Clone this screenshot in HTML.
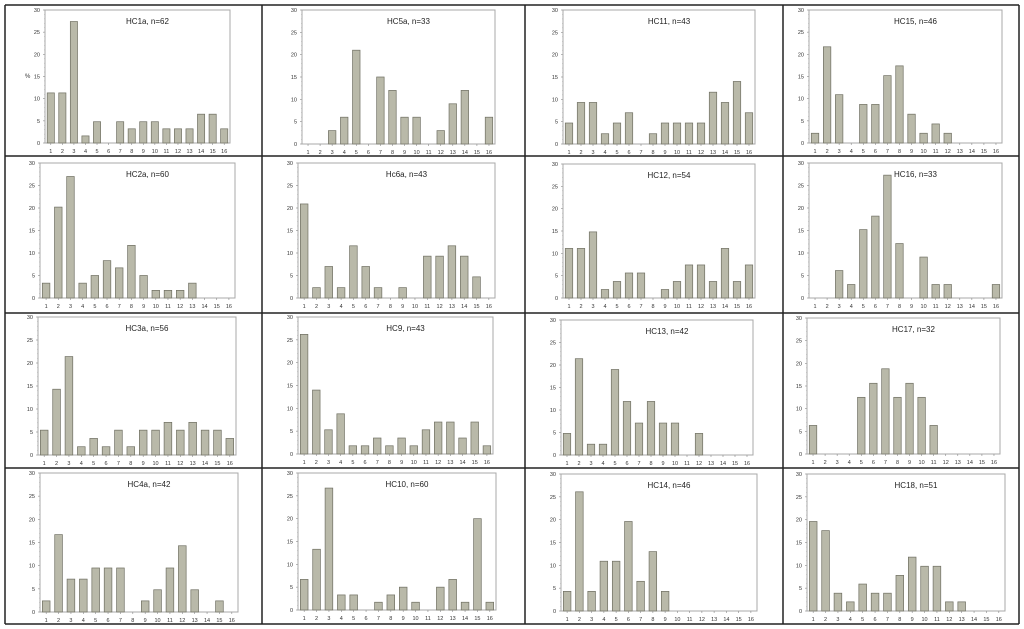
<!DOCTYPE html>
<html><head><meta charset="utf-8"><style>
html,body{margin:0;padding:0;background:#fff;width:1024px;height:629px;overflow:hidden}
svg{display:block;font-family:"Liberation Sans",sans-serif}
</style></head><body>
<svg id="fig" width="1024" height="629"></svg>
<script>
const titles=["HC1a, n=62","HC5a, n=33","HC11, n=43","HC15, n=46","HC2a, n=60","Hc6a, n=43","HC12, n=54","HC16, n=33","HC3a, n=56","HC9, n=43","HC13, n=42","HC17, n=32","HC4a, n=42","HC10, n=60","HC14, n=46","HC18, n=51"];
const categories=[1,2,3,4,5,6,7,8,9,10,11,12,13,14,15,16];
const yTicks=[0,5,10,15,20,25,30];
const hc1a=[11.3,11.3,27.4,1.6,4.8,0,4.8,3.2,4.8,4.8,3.2,3.2,3.2,6.5,6.5,3.2];
const hc5a=[0,0,3,6,21,0,15,12,6,6,0,3,9,12,0,6];
const hc11=[4.7,9.3,9.3,2.3,4.7,7,0,2.3,4.7,4.7,4.7,4.7,11.6,9.3,14,7];
const hc15=[2.2,21.7,10.9,0,8.7,8.7,15.2,17.4,6.5,2.2,4.3,2.2,0,0,0,0];
const hc2a=[3.3,20.2,27,3.3,5,8.3,6.7,11.7,5,1.7,1.7,1.7,3.3,0,0,0];
const hc6a=[20.9,2.3,7,2.3,11.6,7,2.3,0,2.3,0,9.3,9.3,11.6,9.3,4.7,0];
const hc12=[11.1,11.1,14.8,1.9,3.7,5.6,5.6,0,1.9,3.7,7.4,7.4,3.7,11.1,3.7,7.4];
const hc16=[0,0,6.1,3,15.2,18.2,27.3,12.1,0,9.1,3,3,0,0,0,3];
const hc3a=[5.4,14.3,21.4,1.8,3.6,1.8,5.4,1.8,5.4,5.4,7.1,5.4,7.1,5.4,5.4,3.6];
const hc9=[26.2,14,5.3,8.8,1.8,1.8,3.5,1.8,3.5,1.8,5.3,7,7,3.5,7,1.8];
const hc13=[4.8,21.4,2.4,2.4,19,11.9,7.1,11.9,7.1,7.1,0,4.8,0,0,0,0];
const hc17=[6.3,0,0,0,12.5,15.6,18.8,12.5,15.6,12.5,6.3,0,0,0,0,0];
const hc4a=[2.4,16.7,7.1,7.1,9.5,9.5,9.5,0,2.4,4.8,9.5,14.3,4.8,0,2.4,0];
const hc10=[6.7,13.3,26.7,3.3,3.3,0,1.7,3.3,5,1.7,0,5,6.7,1.7,20,1.7];
const hc14=[4.3,26.1,4.3,10.9,10.9,19.6,6.5,13,4.3,0,0,0,0,0,0,0];
const hc18=[19.6,17.6,3.9,2,5.9,3.9,3.9,7.8,11.8,9.8,9.8,2,2,0,0,0];
const series=[hc1a,hc5a,hc11,hc15,hc2a,hc6a,hc12,hc16,hc3a,hc9,hc13,hc17,hc4a,hc10,hc14,hc18];

const boxes=[[45,10,230,143],[302,10,495,144],[563,10,755,144],[809,10,1002,143],
[40,163,235,298],[298,163,495,298],[563,164,755,298],[809,163,1002,298],
[38,317,236,455],[298,317,493,454],[561,320,753,455],[807,318,1000,454],
[40,473,238,612],[298,473,496,610],[561,474,757,611],[807,474,1005,611]];
const NS="http://www.w3.org/2000/svg";
const svg=document.getElementById('fig');
function mk(t,a,p){const e=document.createElementNS(NS,t);for(const k in a)e.setAttribute(k,a[k]);(p||svg).appendChild(e);return e;}

series.forEach((vals,i)=>{
  const [x0,y0,x1,y1]=boxes[i];
  const g=mk('g',{});
  
  
  const fr=mk('rect',{x:x0,y:y0,width:x1-x0,height:y1-y0,fill:'#fff',stroke:'#a8a8a8','stroke-width':1},g);
  
  
  const ys=v=>y1-(v/30)*(y1-y0);
  const slot=(x1-x0)/16;
  const xs=k=>x0+slot*(k+0.5);
  yTicks.forEach(t=>{
    mk('line',{x1:x0-2,x2:x0,y1:ys(t),y2:ys(t),stroke:'#888','stroke-width':0.6},g);
    const tx=mk('text',{x:x0-5,y:ys(t)+2,'font-size':5.5,fill:'#333','text-anchor':'end'},g);
    tx.textContent=t;
    
    
  });
  for(let m=0;m<=30;m+=1){mk('line',{x1:x0-1,x2:x0,y1:ys(m),y2:ys(m),stroke:'#aaa','stroke-width':0.4},g);}
  vals.forEach((v,k)=>{
    const bw=slot*0.62;
    if(v>0){
      const r=mk('rect',{x:xs(k)-bw/2,y:ys(v),width:bw,height:y1-ys(v),fill:'#b9b9a9',stroke:'#6f6f62','stroke-width':0.7},g);
      
      
    }
    mk('line',{x1:xs(k),x2:xs(k),y1:y1,y2:y1+2,stroke:'#888','stroke-width':0.6},g);
    const tl=mk('text',{x:xs(k),y:y1+10,'font-size':5.5,fill:'#333','text-anchor':'middle'},g);
    tl.textContent=categories[k];
    
    
  });
  const tt=mk('text',{x:(x0+x1)/2+10,y:y0+14,'font-size':8,fill:'#222','text-anchor':'middle'},g);
  tt.textContent=titles[i];
  
  
});
const yl=mk('text',{x:25,y:78,'font-size':6,fill:'#333'});
yl.textContent='%';



[[5,5,5,624],[262,5,262,624],[525,5,525,624],[783,5,783,624],[1019,5,1019,624],
 [5,5,1019,5],[5,156,1019,156],[5,313,1019,313],[5,468,1019,468],[5,624,1019,624]].forEach(l=>{
  const e=mk('line',{x1:l[0],y1:l[1],x2:l[2],y2:l[3],stroke:'#222','stroke-width':1.5});
  
  
});
</script>
</body></html>
